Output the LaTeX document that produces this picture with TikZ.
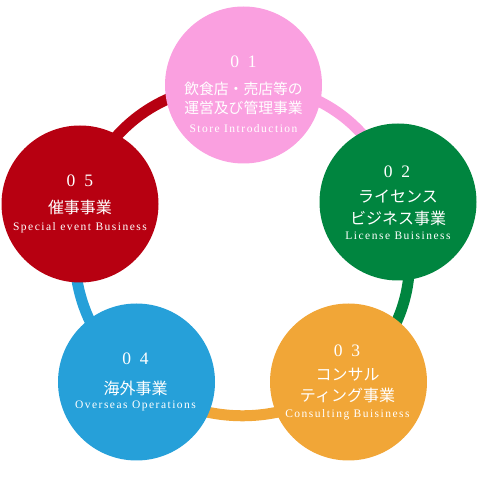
\documentclass[tikz,border=0pt]{standalone}
\usepackage{fontspec}
\setmainfont{Liberation Serif}
\newfontfamily\jpfont{Noto Sans CJK JP}
\newfontfamily\enfont[LetterSpace=13]{Liberation Serif}
\usetikzlibrary{backgrounds,calc}
\definecolor{cpink}{RGB}{250,160,224}
\definecolor{cgreen}{RGB}{0,133,63}
\definecolor{corange}{RGB}{241,166,55}
\definecolor{cblue}{RGB}{38,160,217}
\definecolor{cred}{RGB}{183,0,17}
\begin{document}
\begin{tikzpicture}[x=1pt,y=1pt,
  disc/.style={circle, minimum size=157pt, inner sep=0pt},
  num/.style={text=white, inner sep=0pt, font=\fontsize{17.5}{18}\selectfont, text height=12pt, text depth=0pt},
  jp/.style={text=white, inner sep=0pt, font=\jpfont\fontsize{16}{18}\selectfont},
  jps/.style={text=white, inner sep=0pt, font=\jpfont\fontsize{14.8}{17}\selectfont},
  en/.style={text=white, inner sep=0pt, font=\enfont\fontsize{11.5}{12}\selectfont, text height=8pt, text depth=0pt},
  arcline/.style={line width=11pt}]
\useasboundingbox (0,0) rectangle (480,480);

% circles
\node[disc, fill=cpink]   (pink)   at (243.5,395) {};
\node[disc, fill=cgreen]  (green)  at (398,278) {};
\node[disc, fill=corange] (orange) at (348.5,98) {};
\node[disc, fill=cblue]   (blue)   at (136.5,98) {};
\node[disc, fill=cred]    (red)    at (80,276) {};

% connecting ring
\begin{scope}[on background layer]
\draw[arcline, cpink]   (pink.center)   to[bend left=38] (green.center);
\draw[arcline, cgreen]  (green.center)  to[bend left=36] (orange.center);
\draw[arcline, corange] (orange.center) to[bend left=33] (blue.center);
\draw[arcline, cblue]   (blue.center)   to[bend left=30] (red.center);
\draw[arcline, cred]    (red.center)    to[bend left=38] (pink.center);
\end{scope}

% 01
\node[num] (n1) at ($(pink)+(0,23)$) {0\hspace{9pt}1};
\node[jps] (p1a) at ($(pink)+(0,-3.5)$) {飲食店・売店等の};
\node[jps] (p1b) at ($(pink)+(0,-23)$) {運営及び管理事業};
\node[en]  (e1) at ($(pink)+(0,-44)$) {Store Introduction};
% 02
\node[num] (n2) at ($(green)+(-1,30)$) {0\hspace{9pt}2};
\node[jp]  (g2a) at ($(green)+(0,5)$) {ライセンス};
\node[jp]  (g2b) at ($(green)+(0,-16)$) {ビジネス事業};
\node[en]  (e2) at ($(green)+(0,-34)$) {License Buisiness};
% 03
\node[num] (n3) at ($(orange)+(-1.5,31)$) {0\hspace{9pt}3};
\node[jp]  (o3a) at ($(orange)+(-1,7)$) {コンサル};
\node[jp]  (o3b) at ($(orange)+(-1,-13)$) {ティング事業};
\node[en]  (e3) at ($(orange)+(-1,-31.5)$) {Consulting Buisiness};
% 04
\node[num] (n4) at ($(blue)+(-1,23)$) {0\hspace{9pt}4};
\node[jp]  (b4a) at ($(blue)+(-1,-6)$) {海外事業};
\node[en]  (e4) at ($(blue)+(-1,-23)$) {Overseas Operations};
% 05
\node[num] (n5) at ($(red)+(0,23)$) {0\hspace{9pt}5};
\node[jp]  (r5a) at ($(red)+(0,-3.5)$) {催事事業};
\node[en]  (e5) at ($(red)+(0,-23)$) {Special event Business};
\end{tikzpicture}
\end{document}
